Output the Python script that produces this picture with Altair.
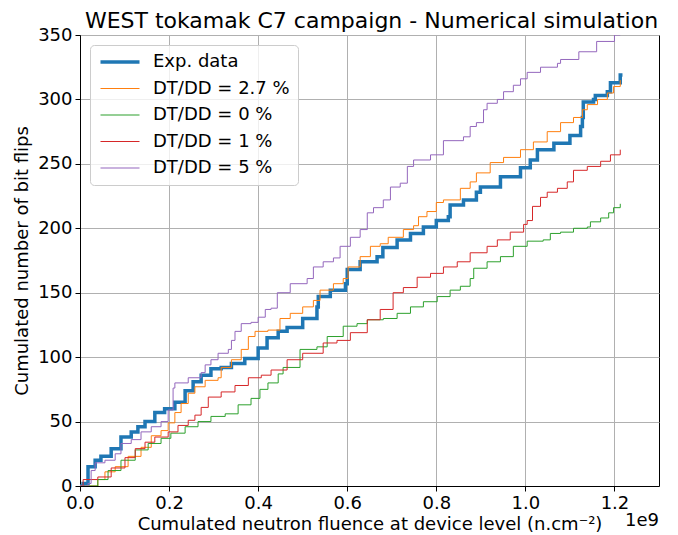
import altair as alt
import pandas as pd

series_names = ["Exp. data", "DT/DD = 2.7 %", "DT/DD = 0 %", "DT/DD = 1 %", "DT/DD = 5 %"]
series_colors = ["#1f77b4", "#ff7f0e", "#2ca02c", "#d62728", "#9467bd"]
chart_title = "WEST tokamak C7 campaign - Numerical simulation"

# fluence in units of 1e9 n/cm^2, cumulated bit flips
exp_x = [0, 0.007, 0.018, 0.034, 0.047, 0.07, 0.092, 0.115, 0.13, 0.146, 0.168, 0.19, 0.213, 0.236,
         0.254, 0.272, 0.294, 0.317, 0.34, 0.37, 0.40, 0.42, 0.445, 0.465, 0.50, 0.532, 0.535, 0.562,
         0.596, 0.60, 0.629, 0.667, 0.68, 0.712, 0.742, 0.771, 0.80, 0.827, 0.831, 0.861, 0.89, 0.899,
         0.944, 0.989, 1.011, 1.027, 1.064, 1.10, 1.124, 1.128, 1.13, 1.153, 1.157, 1.184, 1.191,
         1.213, 1.218]
exp_y = [0, 2, 15, 20, 23, 29, 38, 42, 46, 50, 57, 60, 65, 74,
         81, 86, 91, 92, 95, 99, 107, 115, 120, 123, 130, 139, 147, 152,
         157, 168, 174, 178, 185, 191, 196, 201, 206, 209, 218, 222, 228, 232,
         240, 247, 253, 261, 266, 272, 279, 286, 298, 300, 303, 306, 313,
         319, 319]

dt27_x = [0, 0.01, 0.04, 0.056, 0.079, 0.108, 0.137, 0.16, 0.182, 0.198, 0.213, 0.227, 0.243, 0.258,
          0.281, 0.31, 0.317, 0.34, 0.362, 0.378, 0.393, 0.422, 0.449, 0.472, 0.50, 0.524, 0.539,
          0.569, 0.591, 0.602, 0.629, 0.652, 0.674, 0.692, 0.726, 0.749, 0.76, 0.779, 0.80, 0.816,
          0.854, 0.876, 0.89, 0.921, 0.951, 0.989, 1.018, 1.049, 1.079, 1.108, 1.128, 1.139, 1.162,
          1.184, 1.198, 1.213]
dt27_y = [0, 0, 5, 11, 15, 23, 30, 39, 43, 49, 57, 64, 72, 77,
          82, 84, 92, 98, 106, 116, 120, 121, 130, 134, 139, 144, 152,
          157, 161, 170, 178, 186, 188, 193, 199, 202, 209, 213, 220, 222,
          231, 236, 243, 251, 255, 261, 267, 275, 282, 286, 292, 296, 300,
          305, 310, 315]

dt0_x = [0, 0.01, 0.04, 0.063, 0.092, 0.124, 0.153, 0.182, 0.204, 0.236, 0.265, 0.294, 0.326, 0.355,
         0.384, 0.404, 0.422, 0.445, 0.456, 0.494, 0.532, 0.555, 0.591, 0.622, 0.645, 0.681, 0.712,
         0.742, 0.771, 0.802, 0.831, 0.854, 0.876, 0.884, 0.914, 0.944, 0.973, 1.004, 1.04, 1.056,
         1.079, 1.108, 1.139, 1.146, 1.169, 1.187, 1.198, 1.213]
dt0_y = [0, 0, 5, 12, 20, 28, 33, 37, 41, 46, 50, 54, 56, 63,
         68, 75, 80, 87, 92, 106, 108, 116, 124, 126, 129, 130, 134,
         139, 143, 147, 152, 155, 161, 169, 174, 178, 186, 190, 191, 196,
         197, 200, 201, 205, 208, 212, 216, 219]

dt1_x = [0, 0.007, 0.04, 0.07, 0.101, 0.124, 0.146, 0.168, 0.198, 0.22, 0.243, 0.258, 0.272, 0.288,
         0.317, 0.348, 0.378, 0.407, 0.429, 0.465, 0.50, 0.546, 0.577, 0.607, 0.645, 0.674, 0.703,
         0.726, 0.757, 0.787, 0.816, 0.847, 0.876, 0.914, 0.937, 0.966, 0.996, 1.004, 1.016, 1.034,
         1.049, 1.072, 1.094, 1.108, 1.139, 1.169, 1.191, 1.213]
dt1_y = [0, 5, 7, 14, 22, 29, 34, 38, 42, 47, 51, 55, 61, 69,
         73, 78, 84, 86, 90, 98, 103, 111, 113, 119, 129, 137, 150,
         154, 162, 165, 170, 174, 181, 186, 191, 197, 203, 206, 217, 224,
         228, 231, 236, 245, 248, 252, 257, 261]

dt5_x = [0, 0.018, 0.025, 0.034, 0.056, 0.079, 0.092, 0.115, 0.137, 0.16, 0.182, 0.198, 0.209, 0.213,
         0.243, 0.272, 0.281, 0.294, 0.31, 0.333, 0.34, 0.348, 0.362, 0.384, 0.40, 0.416, 0.429,
         0.443, 0.472, 0.51, 0.524, 0.546, 0.569, 0.584, 0.607, 0.629, 0.645, 0.659, 0.681, 0.697,
         0.719, 0.735, 0.749, 0.787, 0.816, 0.861, 0.876, 0.89, 0.906, 0.914, 0.937, 0.951, 0.973,
         0.989, 1.004, 1.034, 1.072, 1.079, 1.12, 1.16, 1.2, 1.213]
dt5_y = [0, 2, 12, 18, 20, 25, 33, 36, 42, 46, 50, 59, 76, 80,
         84, 88, 94, 98, 103, 106, 113, 120, 126, 127, 131, 137, 138,
         150, 157, 161, 170, 174, 177, 186, 193, 199, 212, 216, 222, 232,
         235, 248, 253, 257, 268, 271, 279, 282, 292, 297, 300, 306, 311,
         316, 321, 325, 328, 331, 337, 345, 350, 353]

x_ticks = [0.0, 0.2, 0.4, 0.6, 0.8, 1.0, 1.2]
y_ticks = [0, 50, 100, 150, 200, 250, 300, 350]

rows = []
for name, xs, ys in zip(series_names,
                        [exp_x, dt27_x, dt0_x, dt1_x, dt5_x],
                        [exp_y, dt27_y, dt0_y, dt1_y, dt5_y]):
    for i, (xv, yv) in enumerate(zip(xs, ys)):
        rows.append({"series": name, "fluence": xv, "flips": yv, "idx": i})
df = pd.DataFrame(rows)

FONT = "DejaVu Sans"
W, H = 579, 451

lines = alt.Chart(df).mark_line(interpolate="step-after", clip=True).encode(
    x=alt.X("fluence:Q",
            scale=alt.Scale(domain=[0, 1.3], nice=False),
            axis=alt.Axis(values=x_ticks, format=".1f", labelFlush=False,
                          title="Cumulated neutron fluence at device level (n.cm⁻²)",
                          titlePadding=3)),
    y=alt.Y("flips:Q",
            scale=alt.Scale(domain=[0, 350], nice=False),
            axis=alt.Axis(values=y_ticks, format="d", labelFlush=False,
                          title="Cumulated number of bit flips", titlePadding=6)),
    color=alt.Color("series:N",
                    scale=alt.Scale(domain=series_names, range=series_colors),
                    title=None,
                    legend=alt.Legend(orient="none", legendX=10, legendY=10,
                                      symbolType="M-1,0H5", symbolSize=169,
                                      symbolStrokeWidth=alt.ExprRef(
                                          "datum.value === 'Exp. data' ? 3.5 : 1.2"),
                                      labelOffset=37,
                                      labelFont=FONT, labelFontSize=18, labelColor="black",
                                      rowPadding=8.5, padding=8,
                                      fillColor="rgba(255,255,255,0.8)",
                                      strokeColor="#cccccc", cornerRadius=4)),
    strokeWidth=alt.condition(alt.datum.series == "Exp. data", alt.value(3.5), alt.value(1)),
    order="idx:Q",
)

offset_df = pd.DataFrame({"t": ["1e9"]})
offset_text = alt.Chart(offset_df).mark_text(
    align="right", baseline="middle", font=FONT, fontSize=18, color="black"
).encode(x=alt.value(W), y=alt.value(H + 35), text="t:N")

title_df = pd.DataFrame({"t": [chart_title]})
title_text = alt.Chart(title_df).mark_text(
    align="center", baseline="alphabetic", font=FONT, fontSize=22, color="black"
).encode(x=alt.value(W / 2 + 2), y=alt.value(-7), text="t:N")

chart = alt.layer(lines, offset_text, title_text).properties(
    width=W, height=H,
    autosize="none",
    padding={"left": 72, "top": 27, "right": 11, "bottom": 49},
).configure_view(
    stroke="black", strokeWidth=1
).configure_axis(
    labelFont=FONT, labelFontSize=18, labelColor="black",
    titleFont=FONT, titleFontSize=18, titleFontWeight="normal", titleColor="black",
    domainColor="black", domainWidth=1, tickColor="black", tickWidth=1, tickSize=5,
    labelPadding=3, gridColor="#b0b0b0", gridWidth=1,
)

chart.save("out.html", embed_options={"renderer": "svg", "actions": False})
